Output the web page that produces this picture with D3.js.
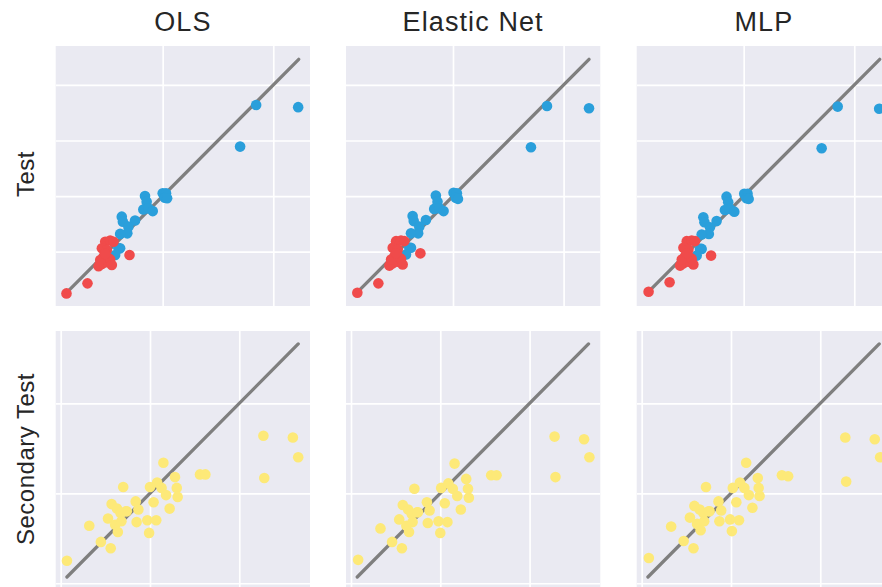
<!DOCTYPE html>
<html>
<head>
<meta charset="utf-8">
<script src="https://cdn.jsdelivr.net/npm/d3@7"></script>
<style>
  html, body { margin: 0; padding: 0; background: #ffffff; }
  svg { display: block; }
</style>
</head>
<body>
<svg id="chart" width="882" height="587"></svg>
<script>
// ---------------- DATA ----------------
const models = ["OLS", "Elastic Net", "MLP"];
const rowLabels = ["Test", "Secondary Test"];

// Tick values (gridlines only; no tick labels shown)
const testXTicks = [0, 2, 4];
const testYTicks = [1, 2, 3, 4];
const secXTicks = [0, 1, 2];
const secYTicks = [0, 1, 2];

// Identity line extents (min / max of true values)
const testLineRange = [0.29, 4.46];
const secLineRange = [0.07, 2.66];

// Test set: [true, predicted]
const olsTestBlue = [[3.69,3.64],[4.45,3.60],[3.40,2.89],[2.00,2.05],[2.06,2.05],[2.04,1.97],[2.08,1.96],[1.68,2.00],[1.71,1.90],[1.65,1.76],[1.74,1.78],[1.82,1.73],[1.50,1.56],[1.26,1.63],[1.28,1.54],[1.38,1.45],[1.36,1.33],[1.23,1.32],[1.20,1.06],[1.23,1.06],[1.14,0.94]];
const olsTestRed = [[0.26,0.25],[0.64,0.43],[1.40,0.94],[0.96,1.18],[1.05,1.20],[1.11,1.18],[0.90,1.06],[0.99,1.03],[0.93,0.91],[1.02,0.88],[0.90,0.78],[0.99,0.81],[1.05,0.86],[0.84,0.74],[0.87,0.85],[1.08,0.76],[0.96,0.96]];

const enetTestBlue = [[3.70,3.62],[4.46,3.58],[3.41,2.88],[2.01,2.06],[2.07,2.05],[2.05,1.97],[2.09,1.95],[1.69,2.01],[1.72,1.90],[1.66,1.77],[1.75,1.78],[1.83,1.73],[1.51,1.57],[1.27,1.64],[1.29,1.55],[1.39,1.45],[1.37,1.33],[1.24,1.33],[1.21,1.07],[1.24,1.07],[1.15,0.95]];
const enetTestRed = [[0.27,0.26],[0.65,0.43],[1.41,0.97],[0.97,1.19],[1.06,1.20],[1.12,1.19],[0.91,1.07],[1.00,1.04],[0.94,0.92],[1.03,0.89],[0.91,0.79],[1.00,0.82],[1.06,0.87],[0.85,0.75],[0.88,0.86],[1.09,0.77],[0.97,0.97]];

const mlpTestBlue = [[3.70,3.61],[4.45,3.57],[3.41,2.86],[2.01,2.04],[2.07,2.04],[2.05,1.96],[2.09,1.95],[1.69,1.99],[1.72,1.89],[1.66,1.75],[1.75,1.77],[1.83,1.72],[1.51,1.55],[1.27,1.62],[1.29,1.53],[1.39,1.44],[1.37,1.32],[1.24,1.31],[1.21,1.05],[1.24,1.05],[1.15,0.93]];
const mlpTestRed = [[0.28,0.28],[0.66,0.45],[1.41,0.93],[0.97,1.19],[1.06,1.20],[1.12,1.19],[0.91,1.07],[1.00,1.04],[0.94,0.92],[1.03,0.89],[0.91,0.79],[1.00,0.82],[1.06,0.87],[0.85,0.75],[0.88,0.86],[1.09,0.77],[0.97,0.97]];

// Secondary test set: [true, predicted]
const olsSecondary = [[0.07,0.25],[0.32,0.64],[0.45,0.46],[0.56,0.39],[0.70,1.07],[0.57,0.88],[0.63,0.83],[0.67,0.78],[0.53,0.72],[0.61,0.65],[0.74,0.80],[0.68,0.69],[0.64,0.57],[0.73,0.80],[0.84,0.91],[0.87,0.82],[0.85,0.68],[0.97,0.70],[1.07,0.70],[0.99,0.56],[1.04,0.90],[1.00,1.07],[1.08,1.12],[1.13,1.06],[1.18,0.98],[1.15,1.34],[1.22,0.83],[1.28,1.18],[1.30,1.06],[1.31,0.96],[1.56,1.21],[1.62,1.21],[2.27,1.64],[2.60,1.62],[2.66,1.40],[2.28,1.17]];
const enetSecondary = [[0.08,0.26],[0.33,0.61],[0.46,0.46],[0.57,0.39],[0.71,1.05],[0.58,0.87],[0.64,0.82],[0.68,0.77],[0.54,0.71],[0.62,0.64],[0.75,0.79],[0.69,0.68],[0.65,0.57],[0.74,0.79],[0.85,0.90],[0.88,0.81],[0.86,0.67],[0.98,0.69],[1.08,0.68],[1.00,0.56],[1.05,0.89],[1.01,1.06],[1.09,1.11],[1.14,1.05],[1.19,0.97],[1.16,1.33],[1.23,0.82],[1.29,1.16],[1.31,1.05],[1.32,0.95],[1.57,1.20],[1.63,1.20],[2.28,1.63],[2.61,1.60],[2.67,1.40],[2.29,1.18]];
const mlpSecondary = [[0.08,0.28],[0.33,0.63],[0.47,0.47],[0.58,0.39],[0.72,1.07],[0.59,0.86],[0.65,0.82],[0.69,0.78],[0.54,0.73],[0.62,0.66],[0.76,0.80],[0.70,0.69],[0.66,0.59],[0.75,0.80],[0.86,0.91],[0.89,0.81],[0.87,0.69],[0.99,0.71],[1.09,0.70],[1.01,0.58],[1.06,0.90],[1.02,1.06],[1.10,1.12],[1.15,1.06],[1.20,0.98],[1.17,1.34],[1.24,0.84],[1.30,1.17],[1.31,1.06],[1.32,0.97],[1.57,1.20],[1.64,1.19],[2.28,1.62],[2.61,1.60],[2.67,1.40],[2.29,1.13]];

const testBlue = [olsTestBlue, enetTestBlue, mlpTestBlue];
const testRed = [olsTestRed, enetTestRed, mlpTestRed];
const secondary = [olsSecondary, enetSecondary, mlpSecondary];

// ---------------- STYLE / LAYOUT ----------------
const colBlue = "#2a9fdb";
const colRed = "#f04b4b";
const colYellow = "#fde978";
const bg = "#eaeaf2";
const textCol = "#262626";

const colX = [55.7, 346, 636.7];
const panelW = 254.3;
const rowY = [46, 331];
const panelH = 260;

const svg = d3.select("#chart");

// Scales (panel-local)
const testX = d3.scaleLinear().domain([0.065, 4.664]).range([0, panelW]);
const testY = d3.scaleLinear().domain([0.023, 4.70]).range([panelH, 0]);
const secX = d3.scaleLinear().domain([-0.056, 2.792]).range([0, panelW]);
const secY = d3.scaleLinear().domain([-0.086, 2.804]).range([panelH, 0]);

const defs = svg.append("defs");

function drawPanel(ci, ri, xs, ys, xTicks, yTicks, lineRange, groups) {
  const g = svg.append("g").attr("transform", `translate(${colX[ci]},${rowY[ri]})`);
  const clipId = `clip-${ci}-${ri}`;
  defs.append("clipPath").attr("id", clipId)
    .append("rect").attr("width", panelW).attr("height", panelH);
  g.append("rect").attr("width", panelW).attr("height", panelH).attr("fill", bg);

  const inner = g.append("g").attr("clip-path", `url(#${clipId})`);
  const xAxis = d3.axisBottom(xs).tickValues(xTicks).tickSize(-panelH).tickFormat("");
  const yAxis = d3.axisLeft(ys).tickValues(yTicks).tickSize(-panelW).tickFormat("");
  const gx = inner.append("g").attr("transform", `translate(0,${panelH})`).call(xAxis);
  const gy = inner.append("g").call(yAxis);
  [gx, gy].forEach(a => {
    a.select(".domain").remove();
    a.selectAll(".tick line").attr("stroke", "#ffffff").attr("stroke-width", 1.7);
  });

  inner.append("line")
    .attr("x1", xs(lineRange[0])).attr("y1", ys(lineRange[0]))
    .attr("x2", xs(lineRange[1])).attr("y2", ys(lineRange[1]))
    .attr("stroke", "#7f7f7f").attr("stroke-width", 3.3).attr("stroke-linecap", "round");

  groups.forEach(([data, color]) => {
    inner.append("g").selectAll("circle").data(data).join("circle")
      .attr("cx", d => xs(d[0])).attr("cy", d => ys(d[1]))
      .attr("r", 5.3).attr("fill", color);
  });
}

models.forEach((m, i) => {
  drawPanel(i, 0, testX, testY, testXTicks, testYTicks, testLineRange,
    [[testBlue[i], colBlue], [testRed[i], colRed]]);
  drawPanel(i, 1, secX, secY, secXTicks, secYTicks, secLineRange,
    [[secondary[i], colYellow]]);
  svg.append("text")
    .attr("x", colX[i] + panelW / 2).attr("y", 31)
    .attr("text-anchor", "middle")
    .attr("font-family", "'Liberation Sans', Arial, sans-serif")
    .attr("font-size", 27).attr("letter-spacing", 1.1)
    .attr("fill", textCol).text(m);
});

rowLabels.forEach((r, i) => {
  const cy = rowY[i] + (i === 0 ? panelH / 2 - 2 : 128);
  svg.append("text")
    .attr("transform", `translate(33.5,${cy}) rotate(-90)`)
    .attr("text-anchor", "middle")
    .attr("font-family", "'Liberation Sans', Arial, sans-serif")
    .attr("font-size", 24).attr("letter-spacing", 0.5)
    .attr("fill", textCol).text(r);
});
</script>
</body>
</html>
